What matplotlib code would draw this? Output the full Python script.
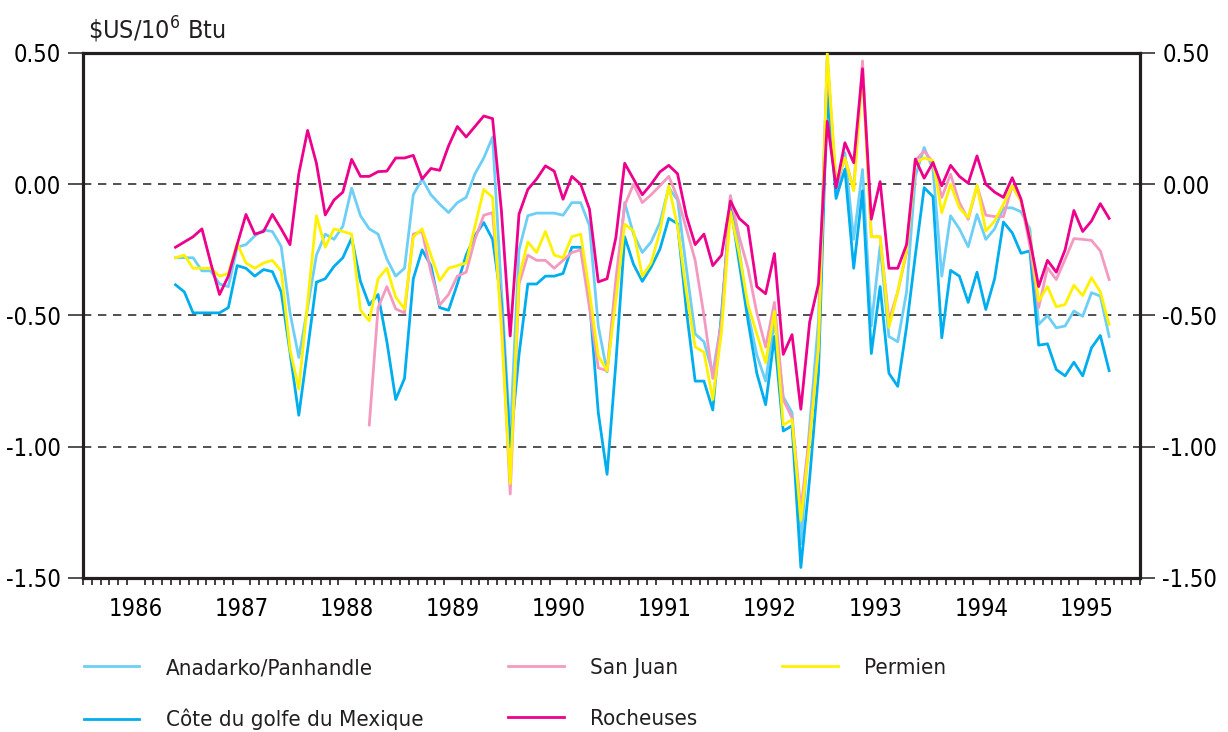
import numpy as np
import pandas as pd
import matplotlib
matplotlib.use('Agg')
import matplotlib.pyplot as plt
from matplotlib import font_manager as fm

# Police étroite si disponible (sinon police normale un peu plus petite)
police, etroite = 'DejaVu Sans', 'normal'
for f in fm.fontManager.ttflist:
    nom_fichier = f.fname.lower()
    if ('condensed' in nom_fichier or 'narrow' in nom_fichier) and f.style == 'normal' \
            and f.weight in (400, 'normal', 'regular') and 'bold' not in nom_fichier:
        police, etroite = f.name, f.stretch
        break
trouve = etroite != 'normal' or police != 'DejaVu Sans'
plt.rcParams['font.family'] = [police, 'DejaVu Sans']
plt.rcParams['font.stretch'] = etroite
plt.rcParams['mathtext.default'] = 'regular'
taille = 16 if trouve else 14.5

# Données mensuelles : novembre 1986 -> septembre 1995 ($US/10^6 Btu)
mois = pd.date_range('1986-11-01', '1995-09-01', freq='MS')

anadarko = [-0.28, -0.28, -0.28, -0.33, -0.33, -0.38, -0.39, -0.24, -0.23, -0.197,
            -0.174, -0.18, -0.237, -0.49, -0.66, -0.47, -0.27, -0.19, -0.21, -0.16,
            -0.015, -0.12, -0.17, -0.19, -0.285, -0.35, -0.32, -0.04, 0.02, -0.04,
            -0.076, -0.108, -0.07, -0.05, 0.04, 0.10, 0.18, -0.40, -0.96, -0.25,
            -0.12, -0.11, -0.11, -0.11, -0.118, -0.07, -0.07, -0.158, -0.54, -0.715,
            -0.40, -0.07, -0.19, -0.26, -0.22, -0.146, -0.013, -0.06, -0.32, -0.57,
            -0.60, -0.72, -0.52, -0.044, -0.25, -0.49, -0.65, -0.75, -0.52, -0.81,
            -0.87, -1.37, -0.92, -0.52, 0.48, -0.04, 0.12, -0.21, 0.056, -0.54,
            -0.235, -0.58, -0.60, -0.41, 0.03, 0.14, 0.057, -0.35, -0.12, -0.17,
            -0.238, -0.115, -0.21, -0.17, -0.09, -0.09, -0.105, -0.17, -0.534, -0.50,
            -0.547, -0.54, -0.483, -0.503, -0.413, -0.426, -0.58]

cote_golfe = [-0.383, -0.41, -0.49, -0.49, -0.49, -0.49, -0.47, -0.31, -0.32, -0.35,
              -0.325, -0.333, -0.41, -0.64, -0.88, -0.63, -0.373, -0.36, -0.313, -0.28,
              -0.205, -0.37, -0.46, -0.42, -0.60, -0.82, -0.74, -0.36, -0.25, -0.31,
              -0.47, -0.48, -0.38, -0.27, -0.196, -0.146, -0.21, -0.45, -1.00, -0.65,
              -0.38, -0.38, -0.35, -0.35, -0.34, -0.24, -0.24, -0.44, -0.87, -1.105,
              -0.68, -0.20, -0.305, -0.37, -0.316, -0.247, -0.13, -0.15, -0.48, -0.75,
              -0.75, -0.86, -0.49, -0.077, -0.30, -0.52, -0.72, -0.84, -0.58, -0.94,
              -0.92, -1.46, -1.12, -0.72, 0.35, -0.054, 0.057, -0.32, -0.025, -0.645,
              -0.39, -0.72, -0.77, -0.544, -0.27, -0.013, -0.047, -0.585, -0.328, -0.35,
              -0.45, -0.335, -0.477, -0.36, -0.144, -0.185, -0.263, -0.254, -0.613, -0.608,
              -0.706, -0.73, -0.678, -0.73, -0.623, -0.576, -0.71]

# San Juan : pas de données avant septembre 1988
san_juan = [None] * 22 + [
    -0.917, -0.47, -0.39, -0.475, -0.49, -0.19, -0.18, -0.335, -0.46, -0.42,
    -0.35, -0.335, -0.21, -0.118, -0.108, -0.50, -1.18, -0.38, -0.27, -0.29,
    -0.29, -0.32, -0.29, -0.26, -0.25, -0.47, -0.70, -0.71, -0.36, -0.08,
    0.0, -0.07, -0.04, -0.006, 0.03, -0.05, -0.17, -0.29, -0.50, -0.74,
    -0.52, -0.044, -0.20, -0.32, -0.49, -0.62, -0.45, -0.82, -0.89, -1.24,
    -0.95, -0.62, 0.48, 0.0, 0.10, -0.02, 0.47, -0.20, -0.20, -0.52,
    -0.41, -0.26, 0.09, 0.127, 0.083, -0.05, 0.038, -0.07, -0.134, -0.006,
    -0.118, -0.123, -0.123, -0.006, -0.064, -0.235, -0.47, -0.318, -0.363, -0.286,
    -0.207, -0.21, -0.214, -0.254, -0.363]

permien = [-0.28, -0.27, -0.32, -0.32, -0.32, -0.35, -0.34, -0.225, -0.30, -0.32,
           -0.30, -0.29, -0.33, -0.63, -0.78, -0.45, -0.12, -0.24, -0.17, -0.18,
           -0.19, -0.48, -0.52, -0.36, -0.32, -0.43, -0.475, -0.20, -0.17, -0.27,
           -0.367, -0.32, -0.31, -0.30, -0.16, -0.02, -0.05, -0.55, -1.14, -0.356,
           -0.22, -0.26, -0.18, -0.27, -0.28, -0.20, -0.19, -0.41, -0.654, -0.71,
           -0.44, -0.152, -0.178, -0.35, -0.30, -0.18, -0.006, -0.16, -0.41, -0.62,
           -0.64, -0.82, -0.56, -0.104, -0.264, -0.46, -0.57, -0.68, -0.484, -0.917,
           -0.897, -1.28, -0.98, -0.62, 0.50, 0.006, 0.10, -0.025, 0.43, -0.20,
           -0.20, -0.545, -0.41, -0.25, 0.08, 0.10, 0.09, -0.108, 0.0, -0.09,
           -0.127, -0.004, -0.178, -0.14, -0.076, -0.006, -0.064, -0.20, -0.445, -0.39,
           -0.467, -0.458, -0.385, -0.424, -0.356, -0.41, -0.534]

rocheuses = [-0.24, -0.22, -0.20, -0.17, -0.30, -0.42, -0.35, -0.23, -0.115, -0.19,
             -0.18, -0.115, -0.17, -0.23, 0.04, 0.205, 0.08, -0.117, -0.06, -0.03,
             0.095, 0.03, 0.03, 0.048, 0.05, 0.10, 0.10, 0.11, 0.02, 0.06,
             0.053, 0.146, 0.22, 0.18, 0.22, 0.26, 0.25, -0.10, -0.578, -0.114,
             -0.02, 0.02, 0.07, 0.05, -0.057, 0.03, 0.0, -0.095, -0.372, -0.36,
             -0.203, 0.08, 0.02, -0.04, 0.0, 0.047, 0.072, 0.04, -0.12, -0.23,
             -0.19, -0.31, -0.27, -0.064, -0.13, -0.16, -0.39, -0.417, -0.264, -0.648,
             -0.573, -0.857, -0.525, -0.38, 0.24, -0.013, 0.158, 0.082, 0.44, -0.133,
             0.01, -0.32, -0.32, -0.23, 0.096, 0.023, 0.083, -0.006, 0.072, 0.03,
             0.004, 0.108, 0.0, -0.03, -0.05, 0.025, -0.057, -0.21, -0.39, -0.29,
             -0.335, -0.25, -0.10, -0.18, -0.14, -0.074, -0.13]

annees = list(range(1986, 1996))
yticks = [0.5, 0.0, -0.5, -1.0, -1.5]

# position au milieu du mois, en années décimales
x = mois.year + (mois.month - 0.5) / 12
sj = np.array([np.nan if v is None else v for v in san_juan])

fig = plt.figure(figsize=(12.28, 7.32), dpi=100)
ax = fig.add_axes([0.0676, 0.2104, 0.8607, 0.7172])

for yv in [0.0, -0.5, -1.0]:
    ax.axhline(yv, color='#333333', lw=1.2, linestyle=(0, (5, 4)), zorder=0)

ep = 2.0
l_ana, = ax.plot(x, anadarko, color='#6dcff6', lw=ep, label='Anadarko/Panhandle', zorder=1)
l_cot, = ax.plot(x, cote_golfe, color='#00aeef', lw=ep, label='Côte du golfe du Mexique', zorder=2)
l_sj, = ax.plot(x, sj, color='#f49ac1', lw=ep, label='San Juan', zorder=3)
l_per, = ax.plot(x, permien, color='#fff200', lw=ep, label='Permien', zorder=4)
l_roc, = ax.plot(x, rocheuses, color='#ec008c', lw=ep, label='Rocheuses', zorder=5)

ax.set_xlim(1986, 1996)
ax.set_ylim(-1.5, 0.5)

ax.set_yticks(yticks)
ax.set_yticklabels(['%.2f' % v for v in yticks])
ax.tick_params(axis='y', which='major', direction='out', length=11, width=1.2,
               labelsize=taille + 1, pad=5, left=True, right=True, labelleft=True,
               labelright=True, color='#333333')

ax.set_xticks([a + 0.5 for a in annees])
ax.set_xticklabels([str(a) for a in annees])
ax.set_xticks(1986 + np.arange(121) / 12, minor=True)
ax.tick_params(axis='x', which='major', length=0, labelsize=taille + 1, pad=14)
ax.tick_params(axis='x', which='minor', direction='out', length=5, width=1.2,
               color='#231f20')

for s in ax.spines.values():
    s.set_linewidth(2.3)
    s.set_color('#231f20')

fig.text(0.0716, 0.938, r'\$US/10$^{6}$ Btu', fontsize=taille + 2, ha='left', va='bottom',
         color='#231f20')

poignees = [l_ana, l_cot, l_sj, l_roc, l_per]
leg = ax.legend(handles=poignees, loc='upper left', bbox_to_anchor=(-0.0076, -0.136), ncol=3,
                frameon=False, fontsize=taille, handlelength=2.5, handletextpad=1.2,
                columnspacing=3.8, labelspacing=1.38, borderaxespad=0)
for t in leg.get_texts():
    t.set_color('#231f20')

fig.savefig('out.png', dpi=100)
